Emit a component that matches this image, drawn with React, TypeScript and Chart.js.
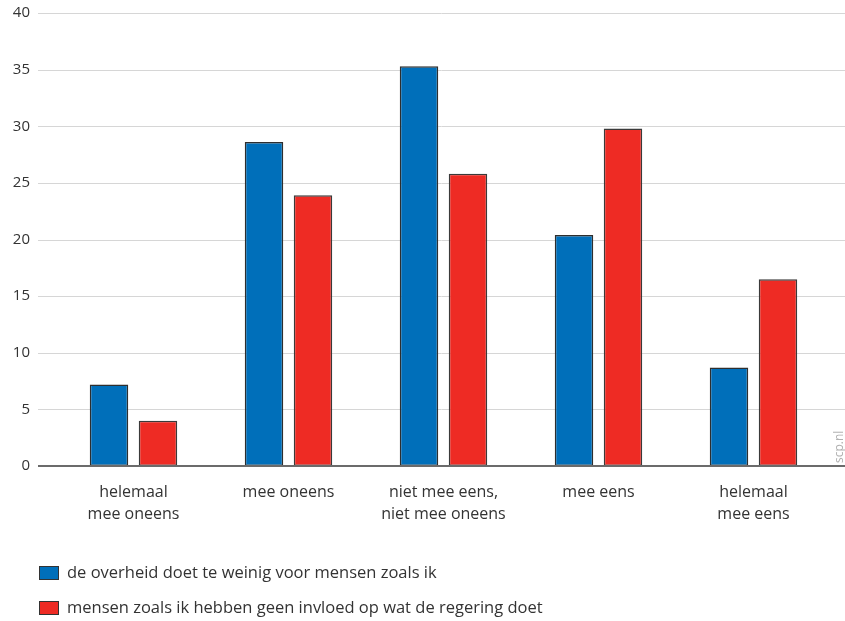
import React, { useEffect, useRef } from "react";
import { Chart, registerables } from "chart.js";

Chart.register(...registerables);

const categories: (string | string[])[] = [
  ["helemaal", "mee oneens"],
  "mee oneens",
  ["niet mee eens,", "niet mee oneens"],
  "mee eens",
  ["helemaal", "mee eens"],
];
const seriesNames = [
  "de overheid doet te weinig voor mensen zoals ik",
  "mensen zoals ik hebben geen invloed op wat de regering doet",
];
const overheidValues = [7.2, 28.6, 35.3, 20.4, 8.7];
const invloedValues = [4.0, 23.9, 25.8, 29.8, 16.5];
const yTicks = [0, 5, 10, 15, 20, 25, 30, 35, 40];

const BLUE = "#006fba";
const RED = "#ee2b24";
const FONT = "'Open Sans', 'Noto Sans', sans-serif";
const SHIFT = 22; // canvas is taller and shifted up by this amount

const decorPlugin = {
  id: "decor",
  beforeDatasetsDraw(chart: any) {
    const ctx = chart.ctx;
    const y = chart.scales.y;
    ctx.save();
    ctx.strokeStyle = "#d6d6d6";
    ctx.lineWidth = 1;
    for (const t of yTicks) {
      if (t === 0) continue;
      const py = Math.round(y.getPixelForValue(t)) + 0.5;
      ctx.beginPath();
      ctx.moveTo(38, py);
      ctx.lineTo(845, py);
      ctx.stroke();
    }
    ctx.restore();
  },
  afterDatasetsDraw(chart: any) {
    const ctx = chart.ctx;
    const y = chart.scales.y;
    ctx.save();
    ctx.strokeStyle = "#6b6b6b";
    ctx.lineWidth = 2;
    const py = Math.round(y.getPixelForValue(0));
    ctx.beginPath();
    ctx.moveTo(38, py);
    ctx.lineTo(845, py);
    ctx.stroke();

    // watermark
    ctx.translate(840, py - 3);
    ctx.rotate(-Math.PI / 2);
    ctx.fillStyle = "#b0b0b0";
    ctx.font = `12px ${FONT}`;
    ctx.textAlign = "left";
    ctx.textBaseline = "middle";
    ctx.fillText("scp.nl", 0, 0);
    ctx.restore();

    // legend
    ctx.save();
    ctx.font = `16.5px ${FONT}`;
    ctx.textBaseline = "middle";
    ctx.textAlign = "left";
    const rows = [573 + SHIFT, 608 + SHIFT];
    chart.data.datasets.forEach((ds: any, i: number) => {
      const cy = rows[i];
      ctx.fillStyle = ds.backgroundColor;
      ctx.fillRect(39, cy - 7, 20, 14);
      ctx.strokeStyle = "#333";
      ctx.lineWidth = 1;
      ctx.strokeRect(39.5, cy - 6.5, 19, 13);
      ctx.fillStyle = "#333";
      ctx.fillText(ds.label, 67, cy);
    });
    ctx.restore();
  },
};

export default function App() {
  const ref = useRef<HTMLCanvasElement>(null);
  useEffect(() => {
    if (!ref.current) return;
    const chart = new Chart(ref.current, {
      type: "bar",
      data: {
        labels: categories,
        datasets: [
          {
            label: seriesNames[0],
            data: overheidValues,
            backgroundColor: BLUE,
            borderColor: "#2e2e2e",
            borderWidth: 1.5,
            borderSkipped: false,
          },
          {
            label: seriesNames[1],
            data: invloedValues,
            backgroundColor: RED,
            borderColor: "#3a3a3a",
            borderWidth: 1.5,
            borderSkipped: false,
          },
        ],
      },
      options: {
        animation: false,
        responsive: false,
        maintainAspectRatio: false,
        datasets: { bar: { categoryPercentage: 0.632, barPercentage: 0.786 } },
        layout: { autoPadding: false, padding: { left: 0, right: 14, top: 13, bottom: 0 } },
        plugins: {
          legend: { display: false },
          tooltip: { enabled: false },
        },
        scales: {
          x: {
            grid: { display: false, drawTicks: false },
            border: { display: false },
            ticks: {
              color: "#333",
              font: { family: FONT, size: 16, lineHeight: 1.375 },
              padding: 15,
              maxRotation: 0,
              autoSkip: false,
            },
            afterFit: (s: any) => {
              s.height = 155;
            },
          },
          y: {
            min: 0,
            max: 40,
            grid: { display: false, drawTicks: false },
            border: { display: false },
            ticks: {
              stepSize: 5,
              color: "#333",
              font: { family: FONT, size: 15 },
              padding: 26,
            },
            afterFit: (s: any) => {
              s.width = 56;
            },
          },
        },
      },
      plugins: [decorPlugin],
    });
    return () => chart.destroy();
  }, []);
  return (
    <div style={{ position: "absolute", left: 0, top: 0, width: 845, height: 621, overflow: "hidden", background: "#fff" }}>
      <canvas
        ref={ref}
        width={845}
        height={621 + SHIFT}
        style={{ position: "absolute", left: 0, top: -SHIFT, width: 845, height: 621 + SHIFT }}
      />
    </div>
  );
}
